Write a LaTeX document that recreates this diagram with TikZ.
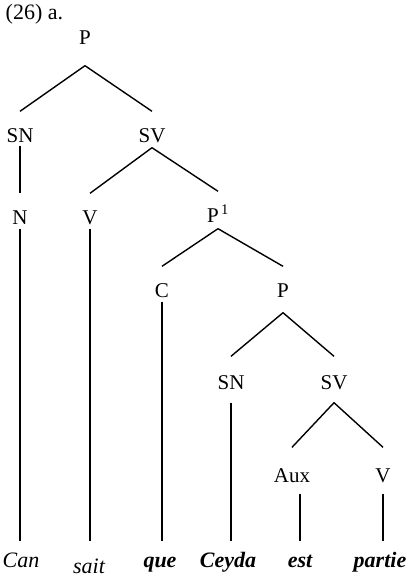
\documentclass[tikz,border=0pt]{standalone}
\usepackage{fontspec}
\setmainfont{Liberation Serif}
\usepackage{tikz}

\tikzset{cat/.style={anchor=base, inner sep=0pt, text height=30pt, text depth=5pt,
    font=\fontsize{21}{24}\selectfont},
  word/.style={anchor=base, inner sep=0pt, text height=25pt, text depth=0pt,
    font=\fontsize{22}{26}\selectfont\itshape},
  bword/.style={word, font=\fontsize{22}{26}\selectfont\bfseries\itshape}}

\begin{document}
\begin{tikzpicture}[x=1pt, y=-1pt, line width=1.4pt]
\useasboundingbox (0,0) rectangle (409,584);
\node[anchor=base west, inner sep=0pt, font=\fontsize{22}{26}\selectfont] (ex) at (5,19) {(26) a.};
\draw (85,44) node[cat, text depth=21pt](p0){P}
    (20,142) node[cat, text depth=3pt](sn1){SN}
    (152,142) node[cat](sv1){SV}
    (20,224) node[cat, text depth=4pt](n){N}
    (90,224) node[cat, text depth=4pt](v1){V}
    (218,222) node[cat, text depth=6pt](pb){P\textsuperscript{\,1}}
    (162,297) node[cat, text depth=4pt](c){C}
    (283,297) node[cat, text depth=15pt](p2){P}
    (231,389) node[cat, text height=32pt, text depth=13pt](sn2){SN}
    (334,389) node[cat, text height=32pt, text depth=13pt](sv2){SV}
    (292,482) node[cat, text height=34pt, text depth=11pt](aux){Aux}
    (383,482) node[cat, text height=34pt, text depth=11pt](v2){V};
\draw (21,567) node[word](w1){Can}
    (89,573) node[word, text height=31pt](w2){sait}
    (160,567) node[bword](w3){que}
    (228,567) node[bword](w4){Ceyda}
    (300,567) node[bword](w5){est}
    (380,567) node[bword](w6){partie};
    % branches
    \draw (p0.south) -- (sn1.north);
    \draw (p0.south) -- (sv1.north);
    \draw (sn1.south) -- (n.north);
    \draw (sv1.south) -- (v1.north);
    \draw (sv1.south) -- (pb.north);
    \draw (pb.south) -- (c.north);
    \draw (pb.south) -- (p2.north);
    \draw (p2.south) -- (sn2.north);
    \draw (p2.south) -- (sv2.north);
    \draw (sv2.south) -- (aux.north);
    \draw (sv2.south) -- (v2.north);
    % down to the words
    \draw (n.south) -- (n.south |- w1.north);
    \draw (v1.south) -- (v1.south |- w2.north);
    \draw (c.south) -- (c.south |- w3.north);
    \draw (sn2.south) -- (sn2.south |- w4.north);
    \draw (w5.north |- aux.south) -- (w5.north);
    \draw (v2.south) -- (v2.south |- w6.north);
\end{tikzpicture}
\end{document}
